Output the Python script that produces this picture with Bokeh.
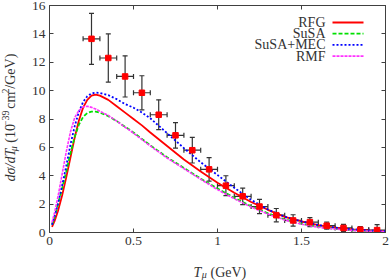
import math
from bokeh.plotting import figure
from bokeh.layouts import row, column
from bokeh.models import (Range1d, LinearAxis, FixedTicker, Label, Arrow,
                          Whisker, TeeHead, ColumnDataSource)
from bokeh.core.properties import value
from bokeh.embed import file_html
from bokeh.resources import INLINE

# ---------------- data ----------------
t_mu = [0.015, 0.03, 0.05, 0.075, 0.1, 0.125, 0.15, 0.175, 0.2, 0.225, 0.25,
        0.275, 0.3, 0.35, 0.4, 0.45, 0.5, 0.55, 0.6, 0.7, 0.8, 0.9, 1.0, 1.1,
        1.2, 1.3, 1.4, 1.5, 1.6, 1.7, 1.8, 1.9, 2.0]
rfg = [0.4, 0.8, 1.5, 2.6, 3.9, 5.3, 6.7, 7.9, 8.8, 9.35, 9.65,
       9.72, 9.65, 9.35, 8.9, 8.45, 8.0, 7.55, 7.05, 6.1, 5.15, 4.3, 3.5, 2.8,
       2.15, 1.6, 1.1, 0.78, 0.52, 0.35, 0.22, 0.14, 0.09]
susa = [0.55, 1.1, 2.0, 3.1, 4.3, 5.6, 6.75, 7.6, 8.15, 8.42, 8.52,
        8.52, 8.45, 8.2, 7.85, 7.45, 7.05, 6.6, 6.15, 5.3, 4.55, 3.8, 3.1, 2.45,
        1.85, 1.35, 0.92, 0.62, 0.4, 0.26, 0.16, 0.1, 0.06]
susa_mec = [0.55, 1.1, 2.0, 3.3, 4.7, 6.2, 7.5, 8.5, 9.2, 9.6, 9.8,
            9.86, 9.84, 9.68, 9.4, 9.05, 8.8, 8.45, 8.05, 7.0, 5.95, 4.95, 4.05, 3.15,
            2.3, 1.62, 1.12, 0.78, 0.52, 0.35, 0.23, 0.15, 0.1]
rmf = [0.7, 1.4, 2.5, 4.1, 5.7, 7.1, 8.1, 8.6, 8.85, 8.9, 8.82,
       8.7, 8.55, 8.25, 7.85, 7.42, 7.0, 6.55, 6.1, 5.25, 4.5, 3.75, 3.02, 2.38,
       1.8, 1.3, 0.88, 0.58, 0.37, 0.24, 0.15, 0.09, 0.05]

exp_t = [0.25, 0.35, 0.45, 0.55, 0.65, 0.75, 0.85, 0.95, 1.05, 1.15, 1.25,
         1.35, 1.45, 1.55, 1.65, 1.75, 1.85, 1.95]
exp_t_halfbin = [0.05, 0.05, 0.05, 0.05, 0.05, 0.05, 0.05, 0.05, 0.05, 0.05,
                 0.05, 0.05, 0.05, 0.05, 0.05, 0.05, 0.05, 0.05]
exp_val = [13.65, 12.3, 11.0, 9.85, 8.3, 6.85, 5.8, 4.45, 3.3, 2.55, 1.83,
           1.22, 0.85, 0.73, 0.48, 0.32, 0.2, 0.17]
exp_err = [1.8, 1.7, 1.45, 1.2, 1.05, 0.9, 0.9, 0.83, 0.7, 0.58, 0.5,
           0.47, 0.4, 0.32, 0.25, 0.25, 0.22, 0.38]

series_names = ["RFG", "SuSA", "SuSA+MEC", "RMF"]
x_ticks = [0, 0.5, 1, 1.5, 2]
x_tick_labels = ["0", "0.5", "1", "1.5", "2"]
y_ticks = [0, 2, 4, 6, 8, 10, 12, 14, 16]
y_tick_labels = ["0", "2", "4", "6", "8", "10", "12", "14", "16"]

# ---------------- styles ----------------
FONT = "Liberation Serif"
FS = "13.5px"
AXC = "#404040"
TXT = "#333333"
styles = [
    dict(line_color="#ff0000", line_width=1.8),
    dict(line_color="#00e000", line_width=1.8, line_dash="4 2"),
    dict(line_color="#0000ff", line_width=1.8, line_dash="2 2"),
    dict(line_color="#ff33ff", line_width=1.6, line_dash="3 1"),
]

W_YL = 28          # width of the y-title strip
H_MAIN = 262       # height of main figure
H_XL = 280 - H_MAIN

p = figure(width=391 - W_YL, height=H_MAIN, x_range=Range1d(0, 2), y_range=Range1d(0, 16),
           output_backend="svg", toolbar_location=None,
           min_border_left=49 - W_YL, min_border_right=6, min_border_top=5,
           min_border_bottom=30)
p.xgrid.visible = False
p.ygrid.visible = False
p.outline_line_color = AXC
p.background_fill_color = "white"
p.border_fill_color = "white"

p.add_layout(LinearAxis(), "above")
p.add_layout(LinearAxis(), "right")

for ax in p.xaxis:
    ax.ticker = FixedTicker(ticks=x_ticks)
    ax.major_label_overrides = {float(v): s for v, s in zip(x_ticks, x_tick_labels)}
for ax in p.yaxis:
    ax.ticker = FixedTicker(ticks=y_ticks)
    ax.major_label_overrides = {float(v): s for v, s in zip(y_ticks, y_tick_labels)}

for ax in list(p.xaxis) + list(p.yaxis):
    ax.axis_line_color = AXC
    ax.major_tick_line_color = AXC
    ax.major_tick_in = 4
    ax.major_tick_out = 0
    ax.minor_tick_line_color = None
    ax.major_label_text_font = FONT
    ax.major_label_text_font_size = FS
    ax.major_label_text_color = TXT
    ax.major_label_standoff = 4

for ax in [p.above[0], p.right[0]]:
    ax.major_label_text_font_size = "0px"
    ax.major_label_text_color = None
    ax.major_label_standoff = 0

# ---------------- curves ----------------
for ys, st in zip([rfg, susa, susa_mec, rmf], styles):
    p.line(t_mu, ys, **st)

# ---------------- experimental points ----------------
src = ColumnDataSource(dict(
    t=exp_t, v=exp_val,
    lo=[v - e for v, e in zip(exp_val, exp_err)],
    hi=[v + e for v, e in zip(exp_val, exp_err)],
    tl=[t - d for t, d in zip(exp_t, exp_t_halfbin)],
    tr=[t + d for t, d in zip(exp_t, exp_t_halfbin)],
))
BAR = "#333333"
p.add_layout(Whisker(source=src, base="t", lower="lo", upper="hi", dimension="height",
                     line_color=BAR, line_width=1.2,
                     lower_head=TeeHead(size=5, line_color=BAR, line_width=1.2),
                     upper_head=TeeHead(size=5, line_color=BAR, line_width=1.2)))
p.add_layout(Whisker(source=src, base="v", lower="tl", upper="tr", dimension="width",
                     line_color=BAR, line_width=1.2,
                     lower_head=TeeHead(size=5, line_color=BAR, line_width=1.2),
                     upper_head=TeeHead(size=5, line_color=BAR, line_width=1.2)))
p.scatter("t", "v", source=src, marker="square", size=5.5,
          fill_color="#ff0000", line_color="#ff0000")

# ---------------- legend (gnuplot style: text then sample) ----------------
leg_y0 = 210.0
leg_dy = 11.2
for i, (name, st) in enumerate(zip(series_names, styles)):
    yy = leg_y0 - i * leg_dy
    p.add_layout(Label(x=276, y=yy, x_units="screen", y_units="screen", text=name,
                       text_font=FONT, text_font_size="14px", text_color=TXT,
                       text_align="right", text_baseline="middle"))
    p.add_layout(Arrow(x_start=283, y_start=yy, x_end=314, y_end=yy,
                       start_units="screen", end_units="screen", start=None, end=None,
                       **st))


def strip(width, height):
    f = figure(width=width, height=height, x_range=Range1d(0, width),
               y_range=Range1d(0, height), output_backend="svg",
               toolbar_location=None, min_border=0,
               x_axis_location=None, y_axis_location=None)
    f.title = None
    f.xgrid.visible = False
    f.ygrid.visible = False
    f.outline_line_color = None
    f.border_fill_color = "white"
    return f


# ---------------- y title (rotated, with sub/superscripts) ----------------
yl = strip(W_YL, H_MAIN)
# (text, style, size, shift-up px, gap before, advance)
ypieces = [("dσ/dT", "italic", "14px", 0, 0, 33.4),
           ("μ", "italic", "10px", -3, 1.5, 5.2),
           ("(10", "normal", "14px", 0, 4.5, 18.7),
           ("−39", "normal", "10px", 5.5, 0.5, 15.6),
           ("cm", "normal", "14px", 0, 4.5, 17.1),
           ("2", "normal", "10px", 5.5, 0.5, 5.0),
           ("/GeV)", "normal", "14px", 0, 0.5, 35.0)]
pos = 203.0            # pixel row (from top) where the title starts
for txt, sty, size, shift, gap, adv in ypieces:
    pos += -gap
    yl.text(x=[10 - shift], y=[H_MAIN - pos], text=[txt], angle=math.pi / 2,
            text_font=value(FONT), text_font_size=value(size),
            text_font_style=sty, text_color=TXT,
            text_align="left", text_baseline="alphabetic")
    pos += -adv

# ---------------- x title ----------------
xl = strip(391, H_XL)
xpieces = [("T", "italic", "14px", 0, 0, 7.8),
           ("μ", "italic", "10px", -2.0, 0.5, 5.2),
           ("(GeV)", "normal", "14px", 0, 3.5, 35.0)]
pos = 193.0
for txt, sty, size, shift, gap, adv in xpieces:
    pos += gap
    xl.text(x=[pos], y=[280 - 271.5 + shift], text=[txt],
            text_font=value(FONT), text_font_size=value(size),
            text_font_style=sty, text_color=TXT,
            text_align="left", text_baseline="alphabetic")
    pos += adv

lay = column(row(yl, p), xl)

html = file_html(lay, INLINE, title="plot")
html = html.replace("</head>", "<style>html,body{margin:0;padding:0;overflow:hidden}</style></head>", 1)
open("out.html", "w").write(html)
